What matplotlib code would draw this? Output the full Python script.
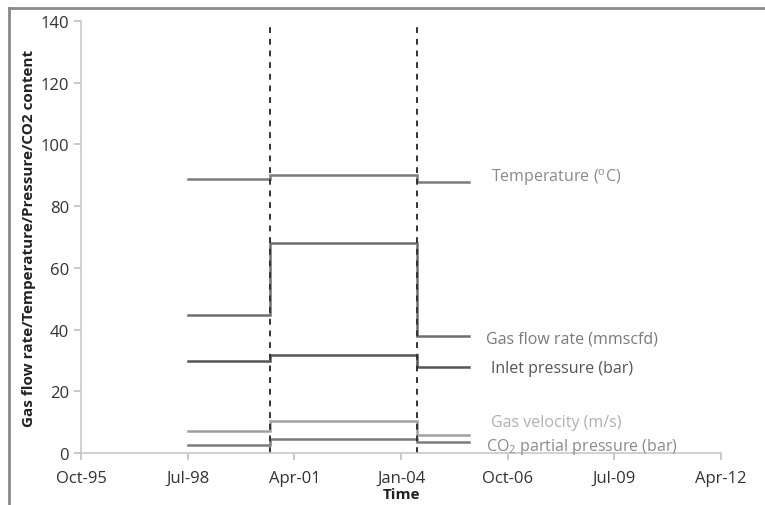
import datetime as dt
import matplotlib
matplotlib.use("Agg")
import matplotlib.pyplot as plt
import matplotlib.dates as mdates
from matplotlib.lines import Line2D

plt.rcParams["font.family"] = ["Open Sans", "DejaVu Sans"]
plt.rcParams["mathtext.fontset"] = "custom"
plt.rcParams["mathtext.rm"] = "Open Sans"
plt.rcParams["mathtext.it"] = "Open Sans"

# Operating periods (boundaries of the three regimes)
period_edges = [dt.date(1998, 7, 1), dt.date(2000, 8, 15),
                dt.date(2004, 6, 1), dt.date(2005, 10, 1)]
change_dates = [dt.date(2000, 8, 15), dt.date(2004, 6, 1)]

temperature = [88.8, 90.2, 87.8]
gas_flow_rate = [44.8, 68.2, 37.8]
inlet_pressure = [29.8, 31.6, 28.0]
gas_velocity = [7.0, 10.5, 5.9]
co2_partial_pressure = [2.7, 4.6, 3.7]

tick_dates = [dt.date(1995, 10, 1), dt.date(1998, 7, 1), dt.date(2001, 4, 1),
              dt.date(2004, 1, 1), dt.date(2006, 10, 1), dt.date(2009, 7, 1),
              dt.date(2012, 4, 1)]
y_ticks = [0, 20, 40, 60, 80, 100, 120, 140]

series = [
    ("Temperature ($^{\\mathrm{o}}$C)", temperature, "#7c7c7c", "#8a8a8a", 89.6, dt.date(2006, 5, 1)),
    ("Gas flow rate (mmscfd)", gas_flow_rate, "#6e6e6e", "#7a7a7a", 37.2, dt.date(2006, 3, 10)),
    ("Inlet pressure (bar)", inlet_pressure, "#555555", "#555555", 27.4, dt.date(2006, 5, 1)),
    ("Gas velocity (m/s)", gas_velocity, "#a0a0a0", "#b0b0b0", 9.9, dt.date(2006, 5, 1)),
    ("CO$_2$ partial pressure (bar)", co2_partial_pressure, "#7c7c7c", "#8a8a8a", 2.4, dt.date(2006, 3, 10)),
]

fig = plt.figure(figsize=(7.65, 5.06), dpi=100)
ax = fig.add_axes([0.1059, 0.1028, 0.8366, 0.8537])

for label, vals, lc, tc, ly, lx in series:
    ax.plot(period_edges, list(vals) + [vals[-1]], drawstyle="steps-post",
            color=lc, lw=1.8, solid_joinstyle="miter")
    ax.text(lx, ly, label, color=tc, fontsize=11.5, ha="left", va="center")

for d in change_dates:
    ax.plot([d, d], [0, 138], color="#333333", lw=1.4, ls=(0, (3, 3)), clip_on=False)

ax.set_xlim(tick_dates[0], tick_dates[-1])
ax.set_ylim(0, 140)
ax.set_xticks(tick_dates)
ax.xaxis.set_major_formatter(mdates.DateFormatter("%b-%y"))
ax.set_yticks(y_ticks)

for s in ("top", "right"):
    ax.spines[s].set_visible(False)
for s in ("left", "bottom"):
    ax.spines[s].set_color("#c8c8c8")
    ax.spines[s].set_linewidth(1.2)
ax.tick_params(axis="both", colors="#c0c0c0", length=5, width=1.2,
               labelcolor="#333333", labelsize=12)
ax.tick_params(axis="x", pad=7)

ax.set_xlabel("Time", fontsize=11, fontweight="bold", color="#222222", labelpad=1)
ax.set_ylabel("Gas flow rate/Temperature/Pressure/CO2 content", fontsize=11,
              fontweight="bold", color="#222222", labelpad=3)

# enclosing frame
fig.add_artist(Line2D([9 / 765, 9 / 765], [0, 1 - 9 / 506], transform=fig.transFigure,
                      color="#8a8a8a", lw=2))
fig.add_artist(Line2D([9 / 765, 1], [1 - 9 / 506, 1 - 9 / 506], transform=fig.transFigure,
                      color="#8a8a8a", lw=2))

fig.savefig("out.png", dpi=100)
